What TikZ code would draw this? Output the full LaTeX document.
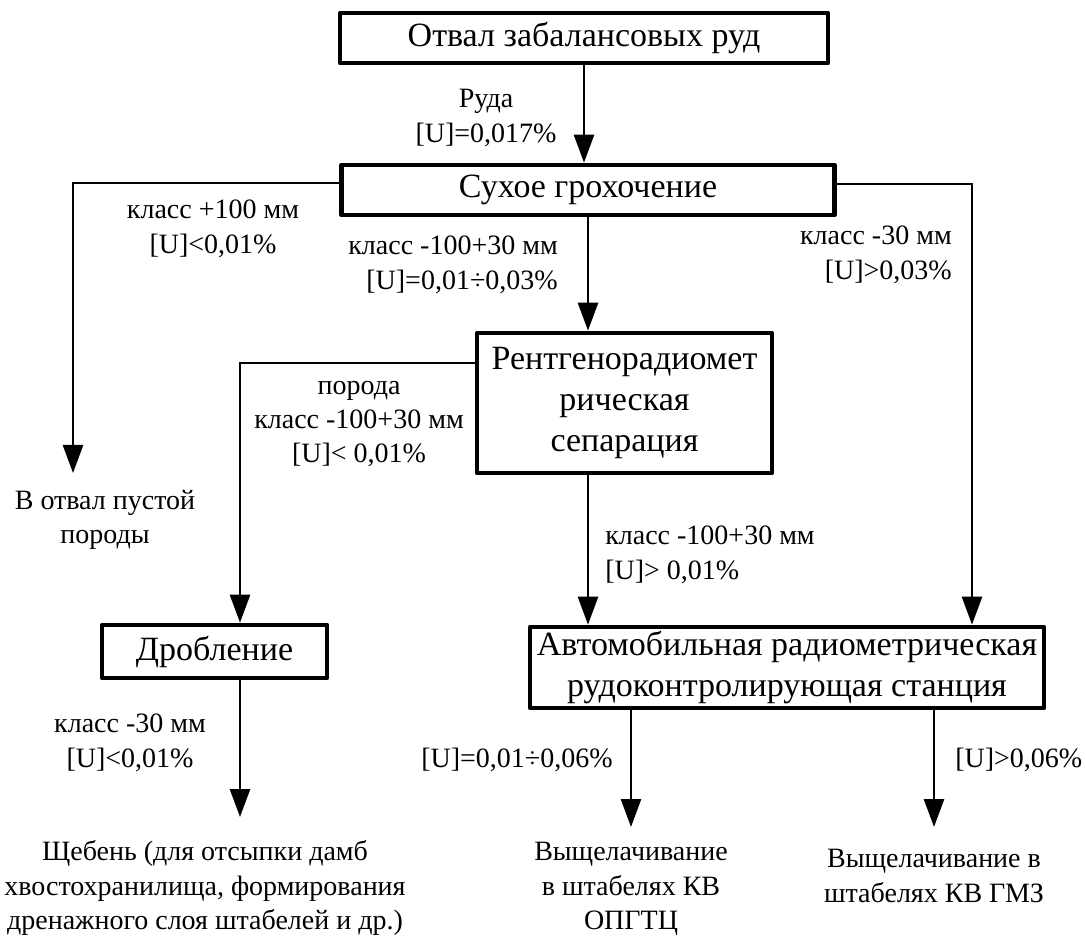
\documentclass[tikz,border=0pt]{standalone}
\usepackage{fontspec}
\setmainfont{Liberation Serif}
\usetikzlibrary{positioning}
\usetikzlibrary{arrows.meta}

\begin{document}
\begin{tikzpicture}[x=0.75pt,y=-0.75pt,
  blok/.style={draw=black, line width=3.5pt, line join=round, inner sep=0pt, align=center, font=\fontsize{25.5}{31}\selectfont},
  lbl/.style={inner sep=0pt, align=center, font=\fontsize{21}{25.8}\selectfont},
  arr/.style={-{Triangle[length=21pt,width=15pt]}, line width=2pt}]
\useasboundingbox (0,0) rectangle (1086,937);
%boxes
\node[blok, minimum width=366pt, minimum height=37.5pt] (otval) at (584,38) {Отвал забалансовых руд};
\node[blok, minimum width=369.75pt, minimum height=37.5pt] (sukhoe) at (588,190) {Сухое грохочение};
\node[blok, minimum width=221.25pt, minimum height=105pt] (rentgen) at (624.5,403) {Рентгенорадиомет\\рическая\\сепарация};
\node[blok, minimum width=168.75pt, minimum height=39.75pt] (drob) at (214.5,651.5) {Дробление};
\node[blok, minimum width=385.5pt, minimum height=60.75pt] (avto) at (787,667.5) {Автомобильная радиометрическая\\рудоконтролирующая станция};
%bends and free ends
\coordinate (lb) at (73,183);
\coordinate (votip) at (73,473);
\coordinate (rb) at (972,184);
\coordinate (rl) at (240,363);
\coordinate (shtip) at (240,817);
\coordinate (a1) at (631,827);
\coordinate (a2) at (934,827);
%arrows
\draw[arr] (otval.south) -- (otval.south |- sukhoe.north);
\draw[arr] (lb -| sukhoe.west) -- (lb) -- (votip);
\draw[arr] (rb -| sukhoe.east) -- (rb) -- (rb |- avto.north);
\draw[arr] (sukhoe.south) -- (sukhoe.south |- rentgen.north);
\draw[arr] (rl -| rentgen.west) -- (rl) -- (rl |- drob.north);
\draw[arr] (sukhoe.south |- rentgen.south) -- (sukhoe.south |- avto.north);
\draw[arr] (rl |- drob.south) -- (shtip);
\draw[arr] (a1 |- avto.south) -- (a1);
\draw[arr] (a2 |- avto.south) -- (a2);
%labels
\node[lbl] (ruda) at (486,118) {Руда\\{[U]}=0,017\%};
\node[lbl] (k100) at (213,229) {класс +100 мм\\{[U]}<0,01\%};
\node[lbl, anchor=east, align=right] (k10030) at (558,265) {класс -100+30 мм\\{[U]}=0,01÷0,03\%};
\node[lbl, anchor=east, align=right] (k30) at (952,255) {класс -30 мм\\{[U]}>0,03\%};
\node[lbl] (poroda) at (359,424) {порода\\класс -100+30 мм\\{[U]}< 0,01\%};
\node[lbl, anchor=west, align=left] (k10030b) at (605,555) {класс -100+30 мм\\{[U]}> 0,01\%};
\node[lbl] (k30b) at (130,743) {класс -30 мм\\{[U]}<0,01\%};
\node[lbl, anchor=west] (u006a) at (421,760) {[U]=0,01÷0,06\%};
\node[lbl, anchor=west] (u006b) at (955,760) {[U]>0,06\%};
%outputs
\node[lbl] (votval) at (105,520) {В отвал пустой\\породы};
\node[lbl] (shcheben) at (205,888) {Щебень (для отсыпки дамб\\хвостохранилища, формирования\\дренажного слоя штабелей и др.)};
\node[lbl] (vysh1) at (631,889) {Выщелачивание\\в штабелях КВ\\ОПГТЦ};
\node[lbl] (vysh2) at (934,876) {Выщелачивание в\\штабелях КВ ГМЗ};
\end{tikzpicture}
\end{document}
